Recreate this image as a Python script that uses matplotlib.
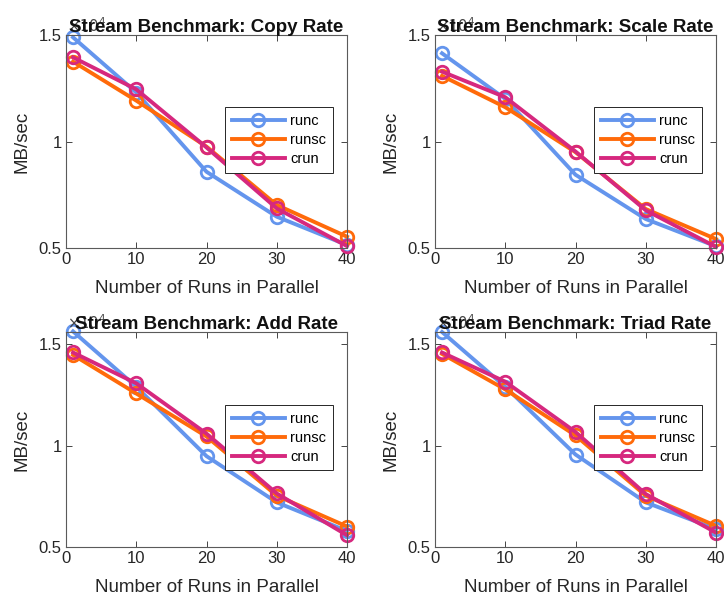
import numpy as np
import matplotlib
matplotlib.use('Agg')
import matplotlib.pyplot as plt
from matplotlib.ticker import FuncFormatter

plt.rcParams['font.family'] = ['Liberation Sans', 'DejaVu Sans']

# number of runs in parallel
runs = [1, 10, 20, 30, 40]
series_names = ['runc', 'runsc', 'crun']
titles = ['Stream Benchmark: Copy Rate', 'Stream Benchmark: Scale Rate',
          'Stream Benchmark: Add Rate', 'Stream Benchmark: Triad Rate']

# MB/sec
copy_runc = [14890, 12300, 8580, 6470, 5140]
copy_runsc = [13750, 11920, 9760, 7020, 5530]
copy_crun = [13950, 12450, 9720, 6860, 5090]

scale_runc = [14140, 12000, 8440, 6360, 5080]
scale_runsc = [13080, 11610, 9500, 6830, 5420]
scale_crun = [13280, 12080, 9530, 6770, 5050]

add_runc = [15630, 12900, 9480, 7200, 5790]
add_runsc = [14470, 12570, 10450, 7530, 6010]
add_crun = [14590, 13070, 10590, 7640, 5580]

triad_runc = [15600, 12900, 9560, 7200, 5880]
triad_runsc = [14520, 12770, 10500, 7530, 6040]
triad_crun = [14590, 13150, 10670, 7610, 5710]

ytops = [15000, 15000, 15600, 15600]

colors = ['#6495ED', '#FF6A0A', '#D6287E']

panels = [
    [copy_runc, copy_runsc, copy_crun],
    [scale_runc, scale_runsc, scale_crun],
    [add_runc, add_runsc, add_crun],
    [triad_runc, triad_runsc, triad_crun],
]

W, H = 724, 597
fig = plt.figure(figsize=(W / 100, H / 100), dpi=100)

# axes boxes in pixels: left, top, right, bottom
boxes = [(66, 35, 347, 248), (435, 35, 716, 248),
         (66, 332, 347, 547), (435, 332, 716, 547)]

axcol = '#262626'
for k in range(4):
    l, t, r, b = boxes[k]
    ax = fig.add_axes([l / W, 1 - b / H, (r - l) / W, (b - t) / H])
    for vals, name, c in zip(panels[k], series_names, colors):
        ax.plot(runs, vals, '-o', color=c, lw=2.8, ms=9, mfc='none',
                mew=2.0, label=name, clip_on=False)
    ax.set_xlim(0, 40)
    ax.set_ylim(5000, ytops[k])
    ax.set_xticks([0, 10, 20, 30, 40])
    ax.set_yticks([5000, 10000, 15000])
    ax.yaxis.set_major_formatter(FuncFormatter(lambda v, p: '%g' % (v / 1e4)))
    ax.tick_params(direction='in', top=True, right=True, length=4,
                   width=0.6, labelsize=12, colors=axcol, pad=3)
    for s in ax.spines.values():
        s.set_color('#5a5a5a')
        s.set_linewidth(0.8)
    ax.set_xlabel('Number of Runs in Parallel', fontsize=13.5, color=axcol)
    ax.set_ylabel('MB/sec', fontsize=13.5, color=axcol)
    ax.xaxis.set_label_coords(0.5, -0.15)
    ax.yaxis.set_label_coords(-0.125, 0.5)
    ax.text(0.005, 1.0, r'$\times10^4$', transform=ax.transAxes, fontsize=10.5,
            color='#444444', ha='left', va='bottom')
    ax.set_title(titles[k], fontsize=13.5, fontweight='bold', color='#111111',
                 pad=2)
    leg = ax.legend(loc='upper right', bbox_to_anchor=(0.95, 0.66),
                    fontsize=10.5, handlelength=3.6, fancybox=False,
                    framealpha=1, edgecolor=axcol, borderpad=0.45,
                    labelspacing=0.35, handletextpad=0.4, borderaxespad=0)
    leg.get_frame().set_linewidth(0.7)

fig.savefig('out.png', dpi=100)
